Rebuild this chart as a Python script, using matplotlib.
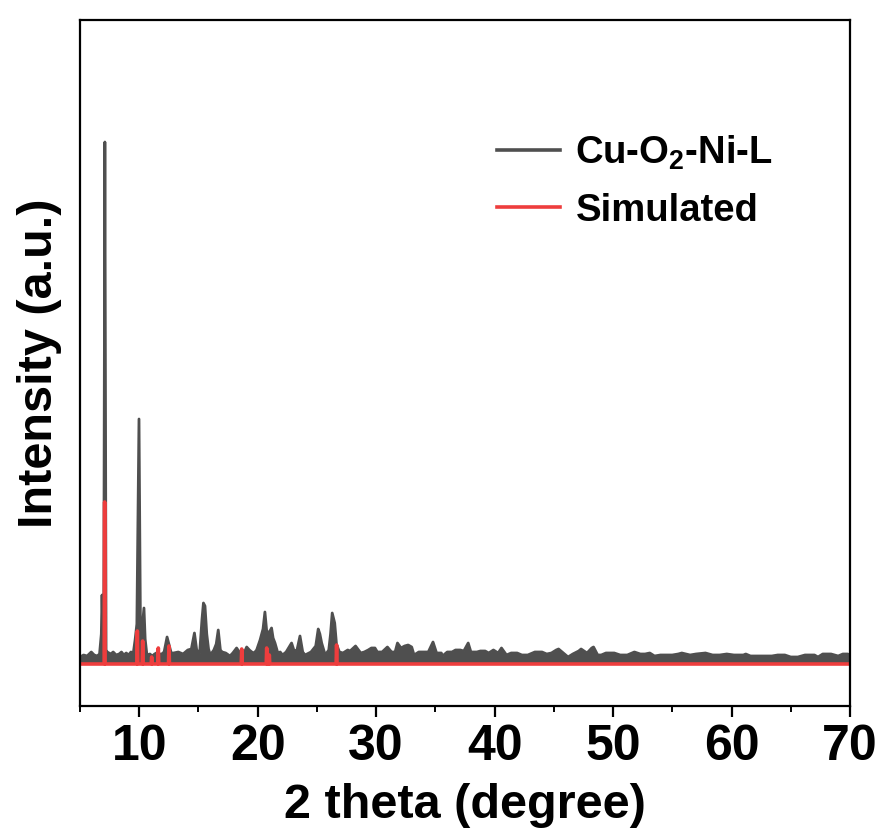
import numpy as np
import matplotlib
matplotlib.use('Agg')
import matplotlib.pyplot as plt

plt.rcParams['font.family'] = ['Liberation Sans', 'DejaVu Sans']
plt.rcParams['font.weight'] = 'bold'
plt.rcParams['mathtext.fontset'] = 'custom'
plt.rcParams['mathtext.rm'] = 'Liberation Sans:bold'
plt.rcParams['mathtext.bf'] = 'Liberation Sans:bold'
plt.rcParams['mathtext.default'] = 'bf'

# Measured pattern (upper edge of the noisy trace), 2theta in degrees
two_theta = [5.0, 5.3, 5.6, 5.95, 6.2, 6.45, 6.65, 6.8, 6.86, 6.95, 7.0, 7.1, 7.2, 7.3, 7.6,
             7.8, 8.05, 8.3, 8.5, 8.7, 8.9, 9.1, 9.3, 9.5, 9.65, 9.8, 9.98, 10.1, 10.2, 10.4,
             10.5, 10.65, 10.9, 11.1, 11.3, 11.6, 11.8, 12.1, 12.35, 12.5, 12.7, 12.9, 13.3, 13.7,
             14.1, 14.4, 14.66, 14.85, 15.1, 15.3, 15.42, 15.55, 15.7, 15.85, 16.0, 16.3, 16.5,
             16.67, 16.85, 17.0, 17.3, 17.66, 17.9, 18.22, 18.45, 18.64, 18.85, 19.07, 19.3, 19.5,
             19.7, 19.91, 20.2, 20.45, 20.61, 20.75, 20.9, 21.17, 21.3, 21.46, 21.7, 21.9, 22.1,
             22.4, 22.65, 22.86, 23.05, 23.3, 23.57, 23.8, 24.0, 24.5, 24.9, 25.11, 25.25, 25.4,
             25.7, 26.0, 26.15, 26.29, 26.5, 26.65, 26.9, 27.2, 27.6, 27.8, 28.26, 28.7, 29.0,
             29.33, 29.6, 29.9, 30.1, 30.5, 30.95, 31.3, 31.6, 31.8, 32.1, 32.4, 32.7, 33.0, 33.2,
             33.6, 34.0, 34.4, 34.8, 35.1, 35.5, 35.6, 36.0, 36.4, 36.7, 37.1, 37.4, 37.77, 38.0,
             38.5, 38.8, 39.2, 39.5, 39.9, 40.3, 40.58, 41.0, 41.4, 41.9, 42.3, 42.8, 43.4, 44.0,
             44.4, 44.8, 45.2, 45.4, 45.9, 46.2, 46.6, 47.1, 47.3, 47.8, 48.2, 48.35, 48.7, 49.0,
             49.4, 49.8, 50.1, 50.6, 51.2, 51.8, 52.3, 52.7, 53.1, 53.5, 54.0, 54.5, 55.0, 55.5,
             55.8, 56.5, 57.0, 57.8, 58.4, 59.0, 59.6, 60.2, 61.0, 61.2, 61.6, 62.2, 62.8, 63.4,
             63.9, 64.5, 65.0, 65.6, 66.2, 67.0, 67.3, 67.7, 68.4, 69.0, 69.4, 69.8, 70.0]
intensity = [7, 9, 8, 12, 9, 8, 10, 30, 69, 20, 15, 522, 14, 12, 10,
             12, 9, 10, 12, 9, 11, 9, 12, 11, 24, 40, 245, 40, 30, 56,
             25, 9, 10, 8, 10, 12, 9, 12, 27, 20, 11, 11, 12, 10,
             14, 15, 31, 14, 11, 45, 61, 58, 30, 15, 9, 14, 20,
             34, 14, 12, 11, 8, 11, 16, 12, 13, 11, 17, 14, 12,
             11, 14, 24, 35, 52, 34, 30, 36, 26, 21, 11, 12, 9,
             12, 17, 21, 14, 13, 28, 12, 9, 12, 18, 35, 30, 21,
             9, 14, 30, 51, 41, 20, 12, 11, 14, 13, 18, 11, 12,
             14, 16, 16, 12, 12, 17, 12, 12, 21, 16, 18, 19, 17, 9,
             12, 12, 12, 22, 11, 11, 8, 12, 12, 14, 14, 13, 21, 12,
             12, 13, 13, 11, 14, 11, 16, 9, 11, 11, 9, 9, 12, 12,
             10, 11, 14, 15, 10, 7, 10, 13, 15, 11, 16, 17, 9, 9,
             11, 11, 11, 9, 9, 12, 10, 10, 11, 8, 9, 9, 9, 10,
             11, 9, 10, 11, 9, 9, 10, 9, 9, 10, 8, 8, 8, 8,
             9, 9, 7, 7, 9, 9, 7, 10, 10, 8, 10, 10, 9]

# Simulated reflections
sim_pos = [7.08, 9.84, 10.29, 11.05, 11.61, 12.51, 18.65, 20.76, 20.98, 26.66]
sim_int = [162, 33, 23, 7, 16, 18, 15, 16, 9, 19]

gray = '#4f4f4f'
red = '#ee3d3d'

# stick pattern for the simulation: narrow peaks on a flat zero baseline
half_w = 0.04
sim_x = [5.0]
sim_y = [0.0]
for p, h in zip(sim_pos, sim_int):
    sim_x += [p - half_w, p, p + half_w]
    sim_y += [0.0, h, 0.0]
sim_x.append(70.0)
sim_y.append(0.0)

fig = plt.figure(figsize=(8.83, 8.34), dpi=100)
ax = fig.add_axes([80 / 883, 1 - 706 / 834, 770 / 883, 686 / 834])

ax.fill_between(two_theta, 0, intensity, color=gray, lw=0)
ax.plot(two_theta, intensity, color=gray, lw=2.0, label='Cu-O$_2$-Ni-L')
ax.plot(sim_x, sim_y, color=red, lw=2.6, label='Simulated')

ax.set_xlim(5, 70)
ax.set_ylim(-42, 644)
ax.set_yticks([])
ax.set_xticks(np.arange(10, 71, 10))
ax.set_xticks(np.arange(5, 71, 10), minor=True)
ax.tick_params(axis='x', which='major', direction='out', length=8, width=1.6,
               labelsize=36, pad=5)
ax.tick_params(axis='x', which='minor', direction='out', length=4, width=1.4)
for lbl in ax.get_xticklabels():
    lbl.set_fontweight('bold')
for s in ax.spines.values():
    s.set_linewidth(1.6)

ax.set_xlabel('2 theta (degree)', fontsize=35, fontweight='bold', labelpad=9)
ax.set_ylabel('Intensity (a.u.)', fontsize=35, fontweight='bold', labelpad=13)

leg = ax.legend(loc='upper left', bbox_to_anchor=(0.497, 0.885), frameon=False,
                fontsize=27.5, handlelength=1.65, handletextpad=0.4, labelspacing=0.55)
for line in leg.get_lines():
    line.set_linewidth(2.6)

fig.savefig('out.png', dpi=100)
